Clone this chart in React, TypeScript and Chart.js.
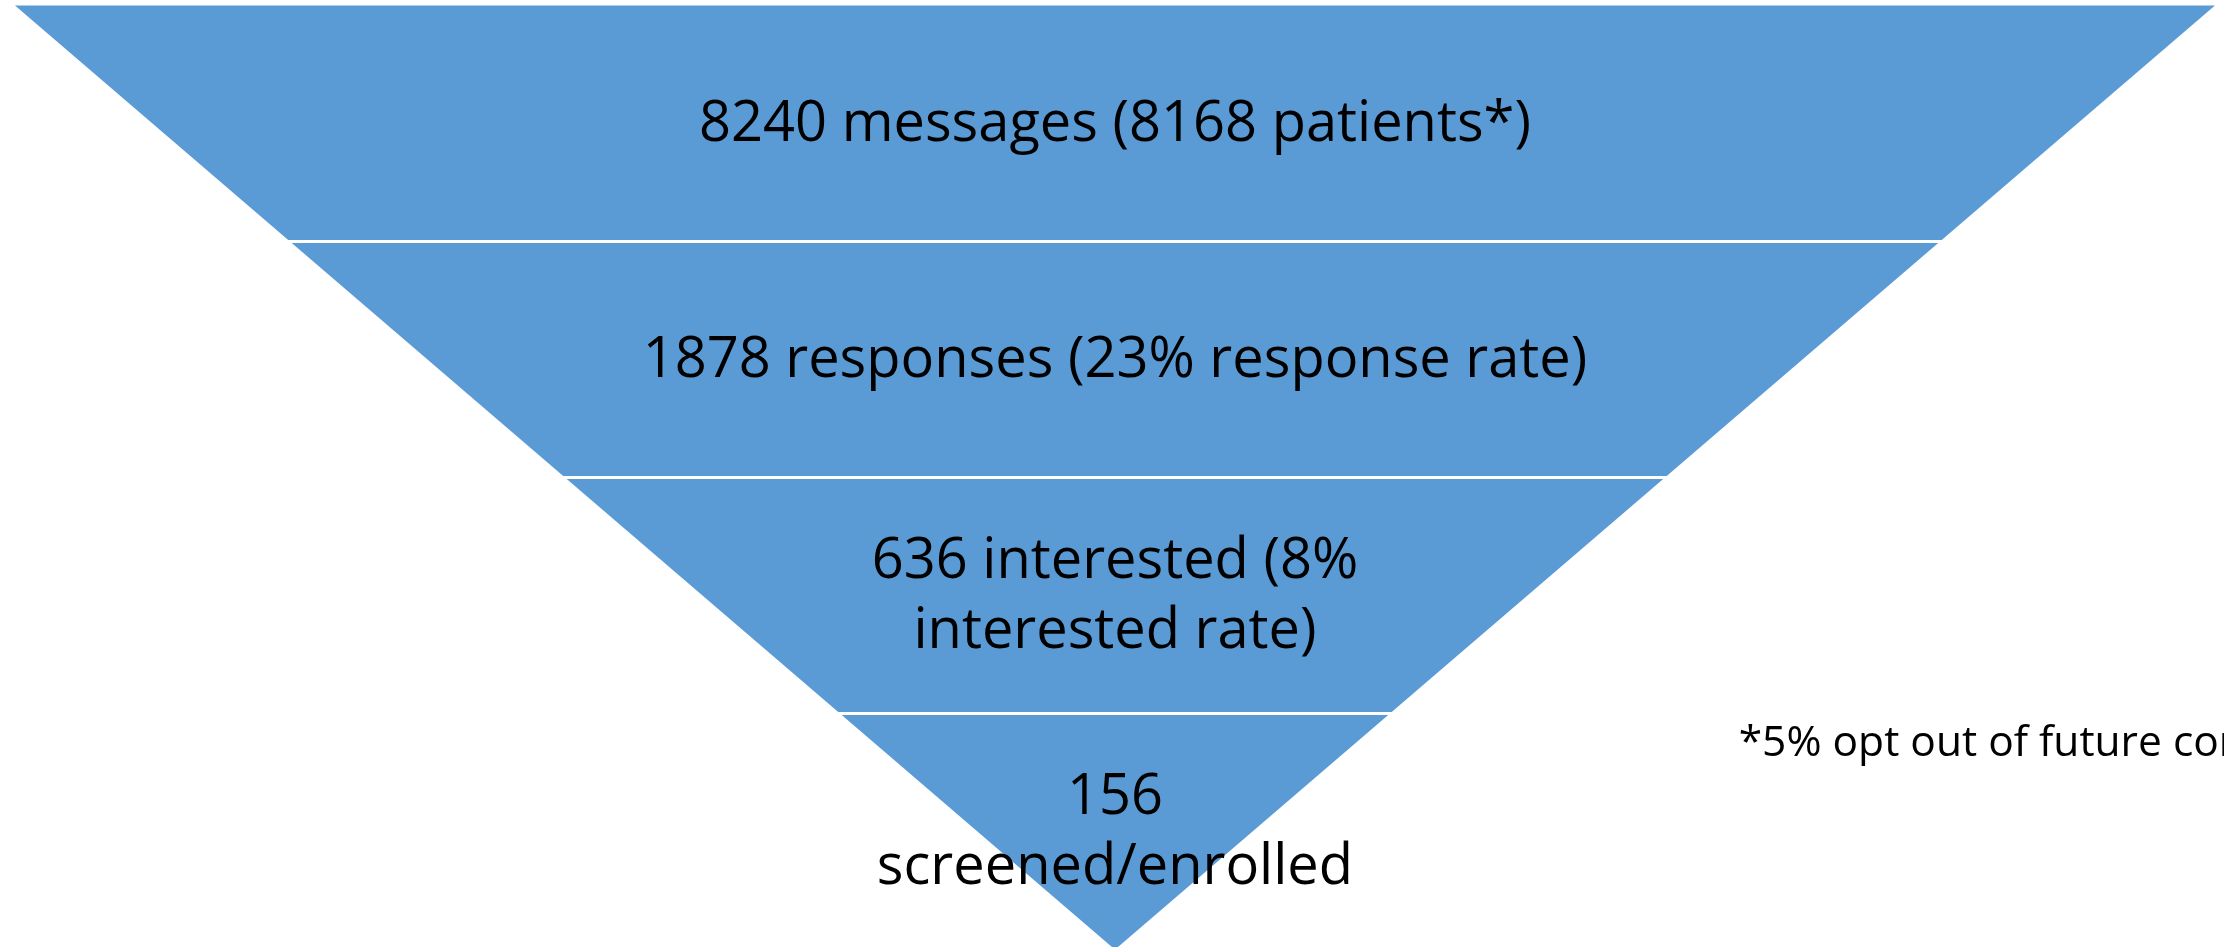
import React, { useEffect, useRef } from "react";
import { Chart, registerables } from "chart.js";

Chart.register(...registerables);

// ---- data ----
const stageNames = ["messages", "responses", "interested", "screened/enrolled"];
const stageCounts = [8240, 1878, 636, 156];
const stageLabelLines: string[][] = [
  ["8240 messages (8168 patients*)"],
  ["1878 responses (23% response rate)"],
  ["636 interested (8%", "interested rate)"],
  ["156", "screened/enrolled"],
];
const footnoteText = "*5% opt out of future contact";

const FILL = "#5B9BD5";
const FONT = "'Open Sans', 'Noto Sans', sans-serif";

// Funnel: an inverted triangle split into equal-height bands (one per stage).
const nStages = stageCounts.length;
const halfWidthAt = (level: number) => (nStages - level) / nStages; // level 0 = top, n = apex

function bandPolygon(i: number) {
  const w0 = halfWidthAt(i);
  const w1 = halfWidthAt(i + 1);
  return [
    { x: -w0, y: i },
    { x: w0, y: i },
    { x: w1, y: i + 1 },
    { x: -w1, y: i + 1 },
    { x: -w0, y: i },
  ];
}

function separatorLine(level: number) {
  const w = halfWidthAt(level);
  return [
    { x: -w - 0.01, y: level },
    { x: w + 0.01, y: level },
  ];
}

const labelPlugin = {
  id: "funnelLabels",
  afterDatasetsDraw(chart: any) {
    const { ctx, scales } = chart;
    const xs = scales.x;
    const ys = scales.y;
    const cx = xs.getPixelForValue(0);
    ctx.save();
    ctx.fillStyle = "#000";
    ctx.textAlign = "center";
    ctx.textBaseline = "alphabetic";
    ctx.font = `56px ${FONT}`;
    const lineGap = 70;
    stageLabelLines.forEach((lines, i) => {
      const cy = ys.getPixelForValue(i + 0.5);
      const n = lines.length;
      lines.forEach((t, k) => {
        const y = cy + 17.5 + (k - (n - 1) / 2) * lineGap;
        ctx.fillText(t, cx, y);
      });
    });
    ctx.textAlign = "left";
    ctx.font = `42.5px ${FONT}`;
    ctx.fillText(footnoteText, xs.getPixelForValue(0.567), ys.getPixelForValue(3.18));
    ctx.restore();
  },
};

export default function App() {
  const ref = useRef<HTMLCanvasElement | null>(null);

  useEffect(() => {
    document.body.style.margin = "0";
    document.body.style.background = "#ffffff";
    const canvas = ref.current;
    if (!canvas) return;

    const datasets: any[] = [];
    // separators (drawn on top -> lower order)
    for (let l = 1; l < nStages; l++) {
      datasets.push({
        label: `sep${l}`,
        data: separatorLine(l),
        showLine: true,
        borderColor: "#ffffff",
        borderWidth: 3,
        pointRadius: 0,
        fill: false,
        order: 0,
      });
    }
    stageNames.forEach((name, i) => {
      datasets.push({
        label: name,
        data: bandPolygon(i),
        showLine: true,
        borderColor: FILL,
        borderWidth: 0,
        backgroundColor: FILL,
        pointRadius: 0,
        fill: "shape",
        tension: 0,
        order: 1,
      });
    });

    const chart = new Chart(canvas, {
      type: "scatter",
      data: { datasets },
      options: {
        animation: false,
        responsive: false,
        maintainAspectRatio: false,
        layout: { padding: 0 },
        plugins: {
          legend: { display: false },
          tooltip: { enabled: false },
        },
        scales: {
          x: { type: "linear", min: -1.0136, max: 1.0082, display: false },
          y: { type: "linear", reverse: true, min: -0.0233, max: 3.989, display: false },
        },
      },
      plugins: [labelPlugin],
    });
    return () => chart.destroy();
  }, []);

  return (
    <div style={{ width: 2224, height: 947, overflow: "hidden" }}>
      <canvas ref={ref} width={2224} height={947} style={{ display: "block" }} />
    </div>
  );
}
